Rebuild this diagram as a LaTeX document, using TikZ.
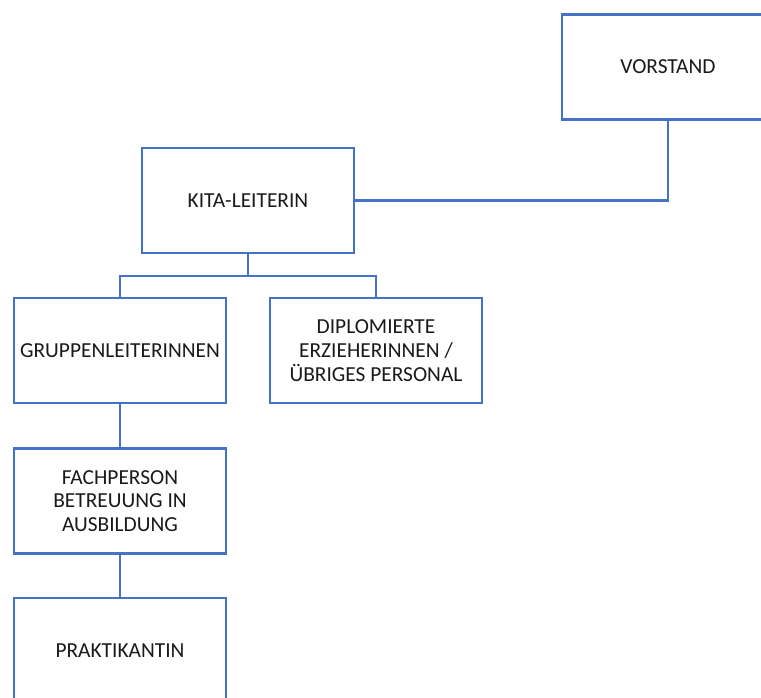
\documentclass[tikz,border=0pt]{standalone}
\usepackage{fontspec}
\setmainfont{Carlito}
\definecolor{boxblue}{HTML}{4472C4}
\definecolor{txt}{HTML}{1A1A1A}
\begin{document}
\begin{tikzpicture}[x=1pt,y=-1pt,
  orgbox/.style={draw=boxblue,line width=2.6pt,fill=white,minimum width=212pt,minimum height=105pt,
    inner sep=0pt,align=center,text=txt,font=\fontsize{21.4}{23.7}\selectfont},
  conn/.style={draw=boxblue,line width=2.6pt}]
\useasboundingbox (0,0) rectangle (761,697);
\clip (0,0) rectangle (761,697);
\fill[white] (0,0) rectangle (761,697);
\node[orgbox] (vor) at (668,67) {VORSTAND};
\node[orgbox] (kita) at (248,200.5) {KITA-LEITERIN};
\node[orgbox] (grp) at (120,350.5) {GRUPPENLEITERINNEN};
\node[orgbox] (dip) at (376,350.5) {DIPLOMIERTE\\ERZIEHERINNEN /\\ÜBRIGES PERSONAL};
\node[orgbox] (fach) at (120,501) {FACHPERSON\\BETREUUNG IN\\AUSBILDUNG};
\node[orgbox] (prak) at (120,650.5) {PRAKTIKANTIN};
\coordinate (split) at (248,276);
\draw[conn] (vor.south) |- (kita.east);
\draw[conn] (kita.south) -- (split);
\draw[conn] (split) -| (grp.north);
\draw[conn] (split) -| (dip.north);
\draw[conn] (grp.south) -- (fach.north);
\draw[conn] (fach.south) -- (prak.north);
\end{tikzpicture}
\end{document}
